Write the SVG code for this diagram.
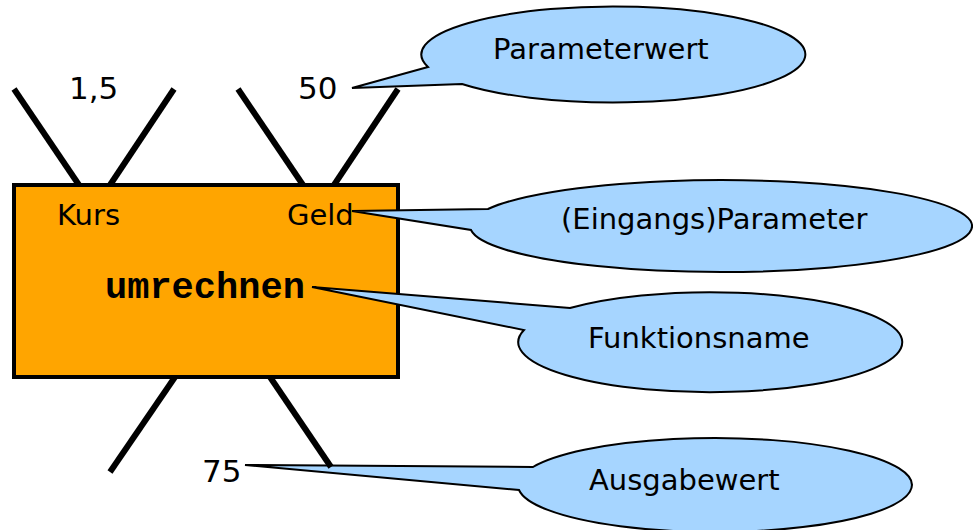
<svg xmlns="http://www.w3.org/2000/svg" width="973" height="530" viewBox="0 0 973 530">
<style>
.t{font-family:"DejaVu Sans","Verdana",sans-serif;font-size:29px;fill:#000}
.n{font-family:"DejaVu Sans","Verdana",sans-serif;font-size:31px;fill:#000}
.m{font-family:"Liberation Mono","Courier New",monospace;font-size:37px;font-weight:bold;fill:#000}
.call{fill:#A6D5FF;stroke:#000;stroke-width:2;stroke-linejoin:miter}
.leg{stroke:#000;stroke-width:6;fill:none}
</style>
<rect width="973" height="530" fill="#fff"/>
<g id="function-box">
<rect x="14" y="185" width="384" height="192" fill="#FFA500" stroke="#000" stroke-width="4"/>
<text class="t" x="57" y="225">Kurs</text>
<text class="t" x="287" y="225">Geld</text>
<text class="m" x="105" y="298">umrechnen</text>
</g>
<g id="callouts">
<g id="c-parameterwert">
<path class="call" d="M428,67 L352,88 L462,84 A192,48 0 1 0 428,67 Z"/>
<text class="t" x="493" y="59">Parameterwert</text>
</g>
<g id="c-eingangsparameter">
<path class="call" d="M488,209 L352,211 L471,230 A251,46 0 1 0 488,209 Z"/>
<text class="t" x="561" y="229">(Eingangs)Parameter</text>
</g>
<g id="c-funktionsname">
<path class="call" d="M570,308 L312,287 L524,330 A192,50 0 1 0 570,308 Z"/>
<text class="t" x="588" y="348">Funktionsname</text>
</g>
<g id="c-ausgabewert">
<path class="call" d="M533,467 L245,465 L519,490 A197,47 0 1 0 533,467 Z"/>
<text class="t" x="589" y="490">Ausgabewert</text>
</g>
</g>
<g id="connectors">
<line class="leg" x1="14" y1="89" x2="79" y2="185"/>
<line class="leg" x1="174" y1="89" x2="110" y2="185"/>
<line class="leg" x1="238" y1="89" x2="303" y2="185"/>
<line class="leg" x1="398" y1="89" x2="334" y2="185"/>
<line class="leg" x1="175" y1="377" x2="110" y2="472"/>
<line class="leg" x1="270" y1="377" x2="331" y2="467"/>
</g>
<g id="values">
<text class="n" x="69" y="99">1,5</text>
<text class="n" x="298" y="99">50</text>
<text class="n" x="202" y="482">75</text>
</g>
</svg>
